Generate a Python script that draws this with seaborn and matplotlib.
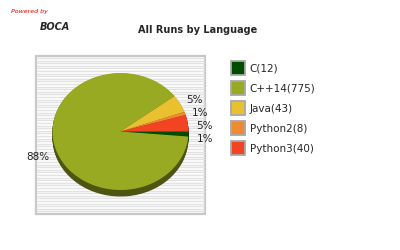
import matplotlib
matplotlib.use("Agg")
import matplotlib.pyplot as plt
from matplotlib.patches import Rectangle
from matplotlib.lines import Line2D
import seaborn as sns
import numpy as np

languages = ["C", "C++14", "Java", "Python2", "Python3"]
runs = [12, 775, 43, 8, 40]
colors = ["#004d00", "#98aa22", "#e9c030", "#f08a30", "#f24322"]
shadow_colors = ["#002a00", "#4e5512", "#75601a", "#784518", "#792211"]

sns.set_style("white")
plt.rcParams["font.family"] = ["DejaVu Sans"]

W, H = 400, 250
fig = plt.figure(figsize=(4, 2.5), dpi=100)

# background axes in pixel units (y down)
bg = fig.add_axes([0, 0, 1, 1])
bg.set_xlim(0, W)
bg.set_ylim(H, 0)
bg.axis("off")
bx0, bx1, by0, by1 = 36, 205, 56, 214
bg.add_patch(Rectangle((bx0, by0), bx1 - bx0, by1 - by0, facecolor="white",
                       edgecolor="#c8c8c8", linewidth=1.6))
for y in np.arange(by0 + 2, by1 - 1, 2.6):
    bg.plot([bx0 + 1, bx1 - 1], [y, y], color="#e2e2e2", linewidth=1.0)

# pie axes in pixel units (y up, scaled to make ellipse)
cx, cy = 120.5, 131.5
rx, ry, depth = 68, 58.5, 6.5
k = ry / rx
ax = fig.add_axes([0, 0, 1, 1])
cyd = (H - cy) / k

for d in np.linspace(depth, 0.5, 10):
    ax.pie(runs, colors=shadow_colors, startangle=0, counterclock=False,
           radius=rx, center=(cx, cyd - d / k), frame=True,
           wedgeprops=dict(linewidth=0))
wedges, _ = ax.pie(runs, colors=colors, startangle=0, counterclock=False,
                   radius=rx, center=(cx, cyd), frame=True,
                   wedgeprops=dict(linewidth=0))
ax.set_aspect("auto")
ax.set_xlim(0, W)
ax.set_ylim(0, H / k)
ax.axis("off")

total = sum(runs)
pcts = [f"{round(100 * v / total)}%" for v in runs]
# label offsets from pie centre, pixels (x right, y up)
label_offsets = [(85, -8), (-83, -25), (74, 32), (80, 19), (84, 6)]
for p, (dx, dy) in zip(pcts, label_offsets):
    ax.text(cx + dx, cyd + dy / k, p, ha="center", va="center",
            fontsize=7.5, color="#222222")

handles = [Line2D([], [], linestyle="none", marker="s", markersize=9.6,
                  markerfacecolor=c, markeredgecolor="#a8a8a8", markeredgewidth=1.3)
           for c in colors]
labels = [f"{n}({v})" for n, v in zip(languages, runs)]
fig.legend(handles, labels, loc="upper left", bbox_to_anchor=(231 / W, 1 - 63.5 / H),
           frameon=False, fontsize=7.5, handlelength=1.35, handleheight=1.0,
           labelspacing=0.95, handletextpad=0.45, borderaxespad=0, borderpad=0)

fig.text(198 / W, 1 - 30 / H, "All Runs by Language", ha="center", va="center",
         fontsize=7, fontweight="bold")
fig.text(11 / W, 1 - 12 / H, "Powered by", ha="left", va="center",
         fontsize=4.5, fontstyle="italic", color="#ee0000")
fig.text(40 / W, 1 - 27 / H, "BOCA", ha="left", va="center",
         fontsize=7, fontstyle="italic", fontweight="bold")

fig.savefig("out.png", dpi=100)
